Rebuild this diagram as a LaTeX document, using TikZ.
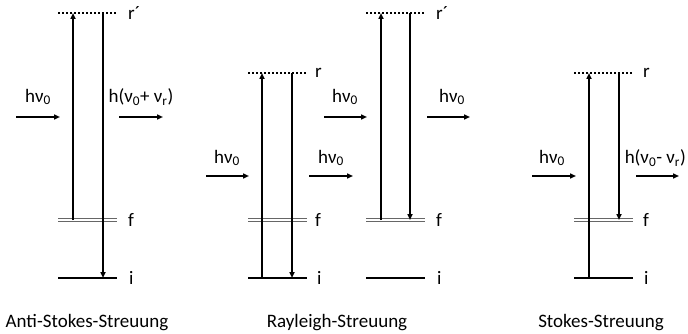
\documentclass[tikz,border=0pt]{standalone}
\usepackage{fontspec}
\setmainfont{Carlito}
\usetikzlibrary{arrows.meta,positioning}

\tikzset{
  virt/.style={line width=2pt,dotted},
  flevel/.style={draw=black!60,double=white,double distance=1.3pt,line width=1pt},
  ilevel/.style={line width=2.7pt},
  trans/.style={line width=1.8pt,-{Triangle[length=6pt,width=5pt]}},
  photon/.style={line width=1.8pt,-{Triangle[length=6pt,width=5pt]}},
  lbl/.style={inner sep=0pt,anchor=west},
  ph/.style={inner sep=0pt},
}

\begin{document}
\begin{tikzpicture}[x=1pt,y=-1pt,font=\fontsize{19}{21}\selectfont]
  \useasboundingbox (0,0) rectangle (688,334);

  % Anti-Stokes
  \coordinate (as-r1) at (58,13);  \coordinate (as-r2) at (117,13);
  \coordinate (as-f1) at (58,220); \coordinate (as-f2) at (117,220);
  \coordinate (as-i1) at (58,278); \coordinate (as-i2) at (117,278);
  \draw[virt] (as-r1) -- (as-r2);
  \draw[flevel] (as-f1) -- (as-f2);
  \draw[ilevel] (as-i1) -- (as-i2);
  \node[lbl] (as-rl) at (128,13) {r´};
  \node[lbl] (as-fl) at (128,220) {f};
  \node[lbl] (as-il) at (129,278) {i};
  \coordinate (as-up0) at (73,220); \coordinate (as-up1) at (73,13);
  \coordinate (as-dn0) at (103,13); \coordinate (as-dn1) at (103,278);
  \draw[trans] (as-up0) -- (as-up1);
  \draw[trans] (as-dn0) -- (as-dn1);
  \coordinate (as-in0) at (16,117);  \coordinate (as-in1) at (60,117);
  \coordinate (as-out0) at (119,117); \coordinate (as-out1) at (163,117);
  \draw[photon] (as-in0) -- (as-in1);
  \draw[photon] (as-out0) -- (as-out1);
  \node[ph] (as-inl) at (38,97) {hν\textsubscript{0}};
  \node[ph] (as-outl) at (141,97) {h(ν\textsubscript{0}+ ν\textsubscript{r})};
  \node (as-cap) at (87,323) {Anti-Stokes-Streuung};

  % Rayleigh, left
  \coordinate (ra-r1) at (248,73);  \coordinate (ra-r2) at (307,73);
  \coordinate (ra-f1) at (248,220); \coordinate (ra-f2) at (307,220);
  \coordinate (ra-i1) at (248,278); \coordinate (ra-i2) at (307,278);
  \draw[virt] (ra-r1) -- (ra-r2);
  \draw[flevel] (ra-f1) -- (ra-f2);
  \draw[ilevel] (ra-i1) -- (ra-i2);
  \node[lbl] (ra-rl) at (315,73) {r};
  \node[lbl] (ra-fl) at (315,220) {f};
  \node[lbl] (ra-il) at (317,278) {i};
  \coordinate (ra-up0) at (262,278); \coordinate (ra-up1) at (262,73);
  \coordinate (ra-dn0) at (292,73);  \coordinate (ra-dn1) at (292,278);
  \draw[trans] (ra-up0) -- (ra-up1);
  \draw[trans] (ra-dn0) -- (ra-dn1);
  \coordinate (ra-in0) at (206,176);  \coordinate (ra-in1) at (249,176);
  \coordinate (ra-out0) at (309,176); \coordinate (ra-out1) at (353,176);
  \draw[photon] (ra-in0) -- (ra-in1);
  \draw[photon] (ra-out0) -- (ra-out1);
  \node[ph] (ra-inl) at (227,158) {hν\textsubscript{0}};
  \node[ph] (ra-outl) at (331,158) {hν\textsubscript{0}};

  % Rayleigh, right
  \coordinate (rb-r1) at (366,13);  \coordinate (rb-r2) at (425,13);
  \coordinate (rb-f1) at (366,220); \coordinate (rb-f2) at (425,220);
  \coordinate (rb-i1) at (366,278); \coordinate (rb-i2) at (425,278);
  \draw[virt] (rb-r1) -- (rb-r2);
  \draw[flevel] (rb-f1) -- (rb-f2);
  \draw[ilevel] (rb-i1) -- (rb-i2);
  \node[lbl] (rb-rl) at (436,13) {r´};
  \node[lbl] (rb-fl) at (436,220) {f};
  \node[lbl] (rb-il) at (437,278) {i};
  \coordinate (rb-up0) at (381,220); \coordinate (rb-up1) at (381,13);
  \coordinate (rb-dn0) at (410,13);  \coordinate (rb-dn1) at (410,220);
  \draw[trans] (rb-up0) -- (rb-up1);
  \draw[trans] (rb-dn0) -- (rb-dn1);
  \coordinate (rb-in0) at (324,117);  \coordinate (rb-in1) at (367,117);
  \coordinate (rb-out0) at (427,117); \coordinate (rb-out1) at (470,117);
  \draw[photon] (rb-in0) -- (rb-in1);
  \draw[photon] (rb-out0) -- (rb-out1);
  \node[ph] (rb-inl) at (345,97) {hν\textsubscript{0}};
  \node[ph] (rb-outl) at (452,97) {hν\textsubscript{0}};
  \node (ry-cap) at (337,323) {Rayleigh-Streuung};

  % Stokes
  \coordinate (st-r1) at (574,73);  \coordinate (st-r2) at (633,73);
  \coordinate (st-f1) at (574,220); \coordinate (st-f2) at (633,220);
  \coordinate (st-i1) at (574,278); \coordinate (st-i2) at (633,278);
  \draw[virt] (st-r1) -- (st-r2);
  \draw[flevel] (st-f1) -- (st-f2);
  \draw[ilevel] (st-i1) -- (st-i2);
  \node[lbl] (st-rl) at (643,73) {r};
  \node[lbl] (st-fl) at (643,220) {f};
  \node[lbl] (st-il) at (644,278) {i};
  \coordinate (st-up0) at (589,278); \coordinate (st-up1) at (589,73);
  \coordinate (st-dn0) at (619,73);  \coordinate (st-dn1) at (619,220);
  \draw[trans] (st-up0) -- (st-up1);
  \draw[trans] (st-dn0) -- (st-dn1);
  \coordinate (st-in0) at (532,176);  \coordinate (st-in1) at (576,176);
  \coordinate (st-out0) at (636,176); \coordinate (st-out1) at (679,176);
  \draw[photon] (st-in0) -- (st-in1);
  \draw[photon] (st-out0) -- (st-out1);
  \node[ph] (st-inl) at (552,158) {hν\textsubscript{0}};
  \node[ph,anchor=east] (st-outl) at (686,158) {h(ν\textsubscript{0}- ν\textsubscript{r})};
  \node (st-cap) at (601,323) {Stokes-Streuung};
\end{tikzpicture}
\end{document}
